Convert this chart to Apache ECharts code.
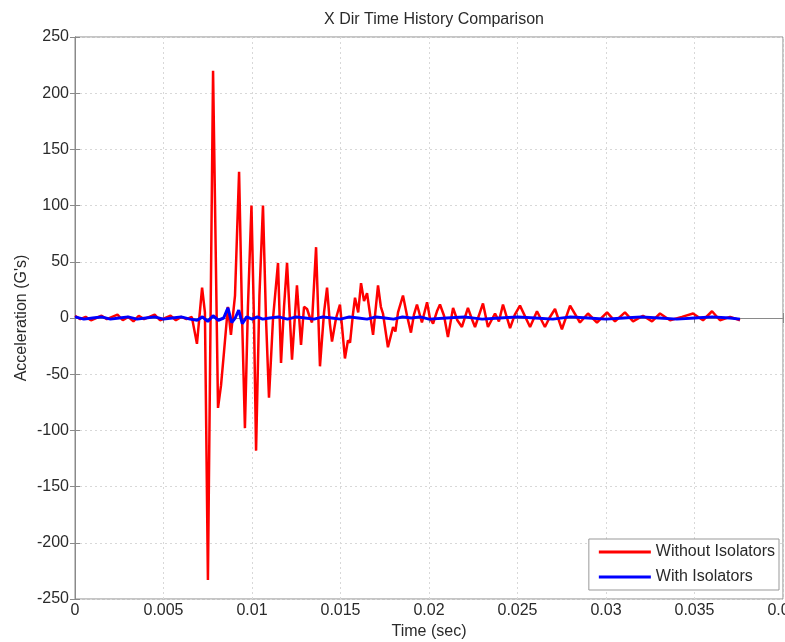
<!DOCTYPE html>
<html>
<head>
<meta charset="utf-8">
<script src="https://cdn.jsdelivr.net/npm/echarts@6/dist/echarts.min.js"></script>
<style>
html,body{margin:0;padding:0;background:#fff;}
#chart{width:785px;height:642px;}
</style>
</head>
<body>
<div id="chart"></div>
<script>
// Time (ms) and acceleration (G's) for the series without isolators
var redTimeMs = [0,0.3,0.6,0.9,1.2,1.5,1.8,2.1,2.4,2.7,3.0,3.3,3.6,3.9,4.2,4.5,4.8,5.1,5.4,5.7,6.0,6.3,6.6,
  6.89,7.18,7.34,7.51,7.80,8.08,8.25,8.42,8.64,8.81,9.04,9.27,9.44,9.60,9.77,9.97,10.11,10.23,10.42,10.62,10.79,10.96,11.19,11.47,11.64,11.81,11.98,12.26,12.54,12.77,12.94,13.11,13.28,13.39,13.62,13.84,14.07,14.24,14.40,14.52,14.75,14.97,15.10,15.25,15.42,15.54,15.70,15.82,16.00,16.16,16.33,16.50,16.70,16.84,17.12,17.28,17.40,17.68,17.97,18.10,18.25,18.53,18.76,18.98,19.15,19.32,19.60,19.89,20.05,20.23,20.45,20.62,20.85,21.07,21.36,21.60,21.86,22.20,22.40,22.60,23.05,23.33,23.73,23.95,24.18,24.58,24.85,25.14,25.71,26.10,26.55,26.80,27.12,27.51,27.97,28.53,28.98,29.49,30.06,30.51,31.07,31.53,32.09,32.60,33.05,33.62,34.29,34.92,35.48,35.99,36.44,37.01,37.57];
var redValues = [2,-1,1,-2,0,2,-1,1,3,-2,1,-3,2,-1,1,3,-2,0,2,-2,1,-1,1,
  -23,27,5,-233,220,-80,-60,-30,10,-15,20,130,0,-98,10,100,0,-118,20,100,0,-71,0,49,-40,10,49,-37,29,-24,10,8,0,-4,63,-43,5,27,-5,-21,0,12,-10,-36,-20,-22,3,18,5,31,15,22,0,-15,29,10,4,-26,-8,-12,5,20,2,-13,3,12,-4,14,0,-5,6,12,2,-17,9,-2,-8,9,0,-8,13,-8,4,-3,12,-9,3,11,-8,6,-8,0,8,-10,11,-4,4,-4,5,-3,5,-3,2,-3,4,-2,1,4,-2,6,-2,1,-2];

// Time (ms) and acceleration (G's) for the series with isolators
var blueTimeMs = [0,0.5,1,1.5,2,2.5,3,3.5,4,4.5,5,5.5,6,6.5,6.9,7.2,7.5,7.8,8.1,8.4,8.64,8.85,9.05,9.25,9.45,9.7,10,10.3,10.6,11,11.5,12,12.5,13,13.5,14,14.5,15,15.5,16,16.5,17,17.5,18,18.5,19,19.5,20,21,22,23,24,25,26,27,28,29,30,31,32,33,34,35,36,37,37.57];
var blueValues = [1,-1,0,1,-1,0,1,-1,0,1,-1,0,1,-1,-2,1,-3,2,-2,0,9,-4,0,7,-5,1,-1,1,-1,0,1,-1,1,0,-1,1,0,-1,1,0,-1,1,0,-1,1,0,1,-1,0,1,-1,0,1,0,-1,1,0,-1,0,1,0,-1,0,1,0,-1];

var xTicks = ['0','0.005','0.01','0.015','0.02','0.025','0.03','0.035','0.04'];
var yTicks = [-250,-200,-150,-100,-50,0,50,100,150,200,250];

function pairs(t, v){ return t.map(function(ms,i){ return [ms/1000, v[i]]; }); }

var chart = echarts.init(document.getElementById('chart'));
var font = 'Liberation Sans, Arial, sans-serif';
var axisCol = '#8a8a8a';
var txtCol = '#2a2a2a';
chart.setOption({
  animation:false,
  backgroundColor:'#fff',
  title:{text:'X Dir Time History Comparison', left:429, top:7, textAlign:'center',
    textStyle:{fontFamily:font, fontSize:16, fontWeight:'normal', color:txtCol}},
  grid:{left:75, right:2, top:37, bottom:43, show:true, borderColor:axisCol, borderWidth:1,
    outerBoundsMode:'none', containLabel:false},
  legend:{orient:'vertical', right:6, bottom:52, backgroundColor:'#fff', borderColor:'#999', borderWidth:1,
    padding:[5,4,5,10], itemGap:9, itemWidth:52, itemHeight:3, icon:'rect',
    textStyle:{fontFamily:font, fontSize:16, color:txtCol},
    data:['Without Isolators','With Isolators']},
  xAxis:[{type:'value', min:0, max:0.04, interval:0.005, position:'bottom',
    name:'Time (sec)', nameLocation:'middle', nameGap:25, nameMoveOverlap:false,
    nameTextStyle:{fontFamily:font, fontSize:16, color:txtCol},
    axisLine:{show:true, lineStyle:{color:axisCol}},
    axisTick:{show:true, inside:true, length:5, lineStyle:{color:axisCol}},
    axisLabel:{fontFamily:font, fontSize:16, color:txtCol, margin:4, hideOverlap:false,
      formatter:function(v){ var i=Math.round(v/0.005); return xTicks[i]; }},
    splitLine:{show:true, lineStyle:{color:'#d8d8d8', type:[2,3]}}},
   {type:'value', min:0, max:0.04, interval:0.005, position:'top',
    axisLine:{show:true, lineStyle:{color:axisCol}},
    axisTick:{show:true, inside:true, length:5, lineStyle:{color:axisCol}},
    axisLabel:{show:false}, splitLine:{show:false}}],
  yAxis:[{type:'value', min:yTicks[0], max:yTicks[yTicks.length-1], interval:50, position:'left',
    name:"Acceleration (G's)", nameLocation:'middle', nameGap:45, nameMoveOverlap:false,
    nameTextStyle:{fontFamily:font, fontSize:16, color:txtCol},
    axisLine:{show:true, lineStyle:{color:axisCol}},
    axisTick:{show:true, inside:true, length:5, lineStyle:{color:axisCol}},
    axisLabel:{fontFamily:font, fontSize:16, color:txtCol, margin:6},
    splitLine:{show:true, lineStyle:{color:'#d8d8d8', type:[2,3]}}},
   {type:'value', min:yTicks[0], max:yTicks[yTicks.length-1], interval:50, position:'right',
    axisLine:{show:true, lineStyle:{color:axisCol}},
    axisTick:{show:true, inside:true, length:5, lineStyle:{color:axisCol}},
    axisLabel:{show:false}, splitLine:{show:false}}],
  series:[
    {name:'Without Isolators', type:'line', data:pairs(redTimeMs, redValues), symbol:'none',
      color:'#ff0000', lineStyle:{color:'#ff0000', width:2.5}, z:2},
    {name:'With Isolators', type:'line', data:pairs(blueTimeMs, blueValues), symbol:'none',
      color:'#0000ff', lineStyle:{color:'#0000ff', width:3}, z:3}
  ]
});
</script>
</body>
</html>
